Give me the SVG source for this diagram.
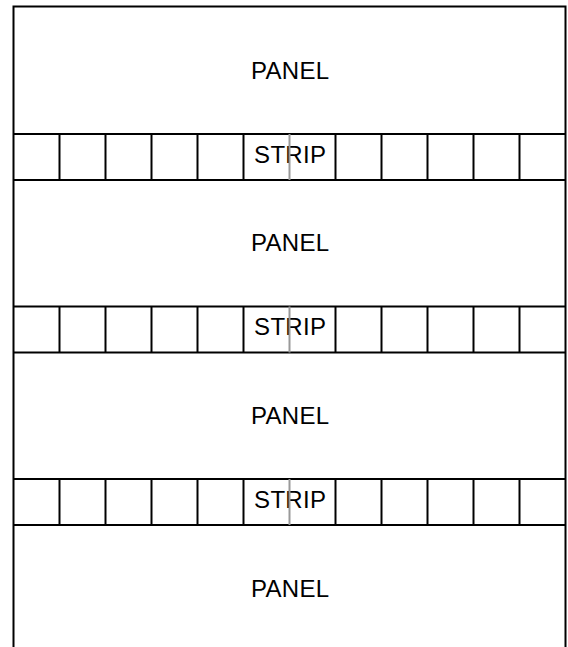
<svg xmlns="http://www.w3.org/2000/svg" width="568" height="647" viewBox="0 0 568 647">
<style>
.ln{stroke:#000;stroke-width:2;fill:none}
.div{stroke:#000;stroke-width:2}
.mid{stroke:#999;stroke-width:2}
.t{font-family:"Liberation Sans",Arial,sans-serif;font-size:24px;fill:#000;text-anchor:middle;letter-spacing:0.3px}
</style>
<defs>
<g id="cells">
<line class="div" x1="59.5" y1="0" x2="59.5" y2="46"/>
<line class="div" x1="105.5" y1="0" x2="105.5" y2="46"/>
<line class="div" x1="151.5" y1="0" x2="151.5" y2="46"/>
<line class="div" x1="197.5" y1="0" x2="197.5" y2="46"/>
<line class="div" x1="243.5" y1="0" x2="243.5" y2="46"/>
<line class="div" x1="335.5" y1="0" x2="335.5" y2="46"/>
<line class="div" x1="381.5" y1="0" x2="381.5" y2="46"/>
<line class="div" x1="427.5" y1="0" x2="427.5" y2="46"/>
<line class="div" x1="473.5" y1="0" x2="473.5" y2="46"/>
<line class="div" x1="519.5" y1="0" x2="519.5" y2="46"/>
<line class="ln" x1="13.5" y1="0" x2="565.5" y2="0"/>
<line class="ln" x1="13.5" y1="46" x2="565.5" y2="46"/>
</g>
</defs>
<rect width="568" height="647" fill="#fff"/>
<g id="frame">
<polyline class="ln" points="13.5,647 13.5,6.5 565.5,6.5 565.5,647"/>
</g>
<g id="panel1"><text class="t" x="290.2" y="78.5">PANEL</text></g>
<g id="strip1" transform="translate(0,134)">
<use href="#cells"/>
<text class="t" x="290.2" y="28.5">STRIP</text>
<line class="mid" x1="289.5" y1="0" x2="289.5" y2="46"/>
</g>
<g id="panel2"><text class="t" x="290.2" y="251">PANEL</text></g>
<g id="strip2" transform="translate(0,306.5)">
<use href="#cells"/>
<text class="t" x="290.2" y="28.5">STRIP</text>
<line class="mid" x1="289.5" y1="0" x2="289.5" y2="46"/>
</g>
<g id="panel3"><text class="t" x="290.2" y="423.5">PANEL</text></g>
<g id="strip3" transform="translate(0,479)">
<use href="#cells"/>
<text class="t" x="290.2" y="28.5">STRIP</text>
<line class="mid" x1="289.5" y1="0" x2="289.5" y2="46"/>
</g>
<g id="panel4"><text class="t" x="290.2" y="596.5">PANEL</text></g>
<g id="connectors"></g>
</svg>
